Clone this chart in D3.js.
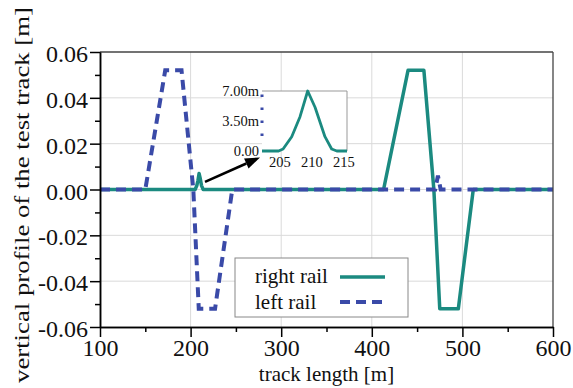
<!DOCTYPE html>
<html>
<head>
<meta charset="utf-8">
<script src="https://cdn.jsdelivr.net/npm/d3@7"></script>
<style>
  body { margin: 0; background: #fff; }
  svg { display: block; font-family: "Liberation Serif", "Times New Roman", serif; }
</style>
</head>
<body>
<script>
/********************************************************/
// data (track length in m, profile in m)

const rightTrack   = [100, 205, 206.85, 208.15, 209.35, 210.5, 212.05, 213.9, 413, 440, 457.5, 468.5, 475, 495.5, 512, 600];
const rightProfile = [0, 0, 0.0017, 0.004, 0.007, 0.0051, 0.0017, 0, 0, 0.052, 0.052, 0, -0.052, -0.052, 0, 0];

const leftTrack   = [100, 150, 172, 190, 203, 209, 227, 246, 470, 471.5, 473, 474.5, 476, 600];
const leftProfile = [0, 0, 0.052, 0.052, 0, -0.052, -0.052, 0, 0, 0.003, 0.006, 0.003, 0, 0];

// zoomed inset (profile in mm)
const insetTrack = [202.2, 204.8, 205.5, 206.85, 208.15, 209.35, 210.5, 212.05, 213.1, 213.9, 215.5];
const insetRight = [0, 0, 0.23, 1.67, 4.0, 7.0, 5.1, 1.67, 0.23, 0, 0];
const insetLeftTrack = [202.2, 202.2];
const insetLeft      = [6.6, 0.6];

// ticks
const xTicks = [100, 200, 300, 400, 500, 600];
const xMinor = [150, 250, 350, 450, 550];
const yTicks = [-0.06, -0.04, -0.02, 0, 0.02, 0.04, 0.06];
const yMinor = [-0.05, -0.03, -0.01, 0.01, 0.03, 0.05];
const insetXTicks = [205, 210, 215];
const insetYTicks = [0, 3.5, 7];
const insetYLabels = ["0.00", "3.50m", "7.00m"];

const seriesNames = ["right rail", "left rail"];

// annotation arrow, in chart units [track, profile]
const arrowFrom = [215.9, 0.0033];
const arrowTo   = [276.6, 0.014];

/********************************************************/
const svgWidth = 573;
const svgHeight = 388;

const chartMargin = { top: 52, right: 20, bottom: 61, left: 100 };
const chartWidth = svgWidth - chartMargin.left - chartMargin.right;
const chartHeight = svgHeight - chartMargin.top - chartMargin.bottom;

const teal = "#1b8a80";
const blue = "#3a4aa8";
const gridColor = "#dadada";

const svg = d3.select("body")
  .append("svg")
  .attr("width", svgWidth)
  .attr("height", svgHeight);

svg.append("rect").attr("width", svgWidth).attr("height", svgHeight).attr("fill", "#fff");

const chartGroup = svg.append("g")
  .attr("transform", `translate(${chartMargin.left}, ${chartMargin.top})`);

/************** scales ************/
const xScale = d3.scaleLinear().domain([100, 600]).range([0, chartWidth]);
const yScale = d3.scaleLinear().domain([-0.06, 0.06]).range([chartHeight, 0]);

/************** gridlines ************/
chartGroup.selectAll(".gridx")
  .data(xTicks.slice(1, -1))
  .enter()
  .append("line")
  .attr("x1", d => xScale(d)).attr("x2", d => xScale(d))
  .attr("y1", 0).attr("y2", chartHeight)
  .attr("stroke", gridColor).attr("stroke-width", 1);

chartGroup.selectAll(".gridy")
  .data(yTicks.slice(1, -1))
  .enter()
  .append("line")
  .attr("x1", 0).attr("x2", chartWidth)
  .attr("y1", d => yScale(d)).attr("y2", d => yScale(d))
  .attr("stroke", gridColor).attr("stroke-width", 1);

/************** lines ************/
const line = d3.line()
  .x(d => xScale(d[0]))
  .y(d => yScale(d[1]));

chartGroup.append("path")
  .attr("d", line(d3.zip(rightTrack, rightProfile)))
  .attr("fill", "none")
  .attr("stroke", teal)
  .attr("stroke-width", 3.5)
  .attr("stroke-linejoin", "round");

chartGroup.append("path")
  .attr("d", line(d3.zip(leftTrack, leftProfile)))
  .attr("fill", "none")
  .attr("stroke", blue)
  .attr("stroke-width", 4)
  .attr("stroke-dasharray", "10,6");

/************** frame + axes ************/
chartGroup.append("line")
  .attr("x1", 0).attr("x2", chartWidth).attr("y1", 0).attr("y2", 0)
  .attr("stroke", "#444").attr("stroke-width", 1.3);
chartGroup.append("line")
  .attr("x1", chartWidth).attr("x2", chartWidth).attr("y1", 0).attr("y2", chartHeight)
  .attr("stroke", "#444").attr("stroke-width", 1.3);

const leftAxis = chartGroup.append("g")
  .call(d3.axisLeft(yScale).tickValues(yTicks).tickSize(10).tickSizeOuter(0)
    .tickPadding(2).tickFormat(d => d.toFixed(2)));
chartGroup.append("g")
  .call(d3.axisLeft(yScale).tickValues(yMinor).tickSize(5).tickSizeOuter(0).tickFormat(""));

const bottomAxis = chartGroup.append("g")
  .attr("transform", `translate(0, ${chartHeight})`)
  .call(d3.axisBottom(xScale).tickValues(xTicks).tickSize(10).tickSizeOuter(0).tickPadding(2));
chartGroup.append("g")
  .attr("transform", `translate(0, ${chartHeight})`)
  .call(d3.axisBottom(xScale).tickValues(xMinor).tickSize(5).tickSizeOuter(0).tickFormat(""));

chartGroup.selectAll(".domain, .tick line")
  .attr("stroke", "#000")
  .attr("stroke-width", 1.5);

chartGroup.selectAll(".tick text")
  .attr("font-family", "'Liberation Serif', serif")
  .attr("font-size", 24)
  .attr("fill", "#111");
leftAxis.selectAll("text").attr("dy", "0.4em");

/************** axis titles ************/
svg.append("text")
  .text("track length [m]")
  .attr("x", chartMargin.left + chartWidth / 2)
  .attr("y", 381)
  .attr("text-anchor", "middle")
  .attr("font-size", 21)
  .attr("fill", "#111");

svg.append("text")
  .text("vertical profile of the test track [m]")
  .attr("transform", "translate(29, 195) rotate(-90)")
  .attr("text-anchor", "middle")
  .attr("font-size", 20)
  .attr("textLength", 376)
  .attr("lengthAdjust", "spacingAndGlyphs")
  .attr("fill", "#111");

/************** inset ************/
const inset = { left: 262, top: 91, width: 85, height: 60 };

const insetX = d3.scaleLinear().domain([202.2, 215.5]).range([inset.left, inset.left + inset.width]);
const insetY = d3.scaleLinear().domain([0, 7]).range([inset.top + inset.height, inset.top]);

svg.append("clipPath").attr("id", "insetClip")
  .append("rect")
  .attr("x", inset.left).attr("y", inset.top - 2)
  .attr("width", inset.width).attr("height", inset.height + 4);

svg.append("rect")
  .attr("x", inset.left).attr("y", inset.top)
  .attr("width", inset.width).attr("height", inset.height)
  .attr("fill", "#fff");

svg.append("line")
  .attr("x1", inset.left).attr("x2", inset.left + inset.width)
  .attr("y1", inset.top).attr("y2", inset.top)
  .attr("stroke", "#999").attr("stroke-width", 1);
svg.append("line")
  .attr("x1", inset.left + inset.width).attr("x2", inset.left + inset.width)
  .attr("y1", inset.top).attr("y2", inset.top + inset.height)
  .attr("stroke", "#999").attr("stroke-width", 1);

const insetLine = d3.line()
  .x(d => insetX(d[0]))
  .y(d => insetY(d[1]));

svg.append("path")
  .attr("clip-path", "url(#insetClip)")
  .attr("d", insetLine(d3.zip(insetTrack, insetRight)))
  .attr("fill", "none")
  .attr("stroke", teal)
  .attr("stroke-width", 2.8)
  .attr("stroke-linejoin", "round");

svg.append("path")
  .attr("d", insetLine(d3.zip(insetLeftTrack, insetLeft)))
  .attr("fill", "none")
  .attr("stroke", blue)
  .attr("stroke-width", 3)
  .attr("stroke-dasharray", "2.5,10.5");

svg.selectAll(".insetYLabel")
  .data(insetYTicks)
  .enter()
  .append("text")
  .text((d, i) => insetYLabels[i])
  .attr("x", inset.left - 3)
  .attr("y", d => insetY(d) + 5)
  .attr("text-anchor", "end")
  .attr("font-size", 14.5)
  .attr("fill", "#111");

svg.selectAll(".insetXLabel")
  .data(insetXTicks)
  .enter()
  .append("text")
  .text(d => d)
  .attr("x", d => insetX(d))
  .attr("y", inset.top + inset.height + 16)
  .attr("text-anchor", "middle")
  .attr("font-size", 14.5)
  .attr("fill", "#111");

/************** arrow ************/
const ax1 = xScale(arrowFrom[0]) + chartMargin.left;
const ay1 = yScale(arrowFrom[1]) + chartMargin.top;
const ax2 = xScale(arrowTo[0]) + chartMargin.left;
const ay2 = yScale(arrowTo[1]) + chartMargin.top;
const alen = Math.hypot(ax2 - ax1, ay2 - ay1);
const ux = (ax2 - ax1) / alen, uy = (ay2 - ay1) / alen;
const headLen = 15, headW = 5.5;
const bx = ax2 - ux * headLen, by = ay2 - uy * headLen;

svg.append("line")
  .attr("x1", ax1).attr("y1", ay1).attr("x2", bx).attr("y2", by)
  .attr("stroke", "#000").attr("stroke-width", 2.6);

svg.append("polygon")
  .attr("points", [
    [ax2, ay2],
    [bx - uy * headW, by + ux * headW],
    [bx + uy * headW, by - ux * headW]
  ].map(p => p.join(",")).join(" "))
  .attr("fill", "#000");

/************** legend ************/
const legend = svg.append("g").attr("transform", "translate(235, 258)");

legend.append("rect")
  .attr("width", 173).attr("height", 59)
  .attr("fill", "#fff")
  .attr("stroke", "#888").attr("stroke-width", 1);

legend.selectAll(".legendText")
  .data(seriesNames)
  .enter()
  .append("text")
  .text(d => d)
  .attr("x", 20)
  .attr("y", (d, i) => 25 + i * 26)
  .attr("font-size", 21)
  .attr("fill", "#111");

legend.append("line")
  .attr("x1", 105).attr("x2", 150).attr("y1", 19).attr("y2", 19)
  .attr("stroke", teal).attr("stroke-width", 3.5);

legend.append("line")
  .attr("x1", 105).attr("x2", 150).attr("y1", 44).attr("y2", 44)
  .attr("stroke", blue).attr("stroke-width", 4)
  .attr("stroke-dasharray", "10,6");
</script>
</body>
</html>
